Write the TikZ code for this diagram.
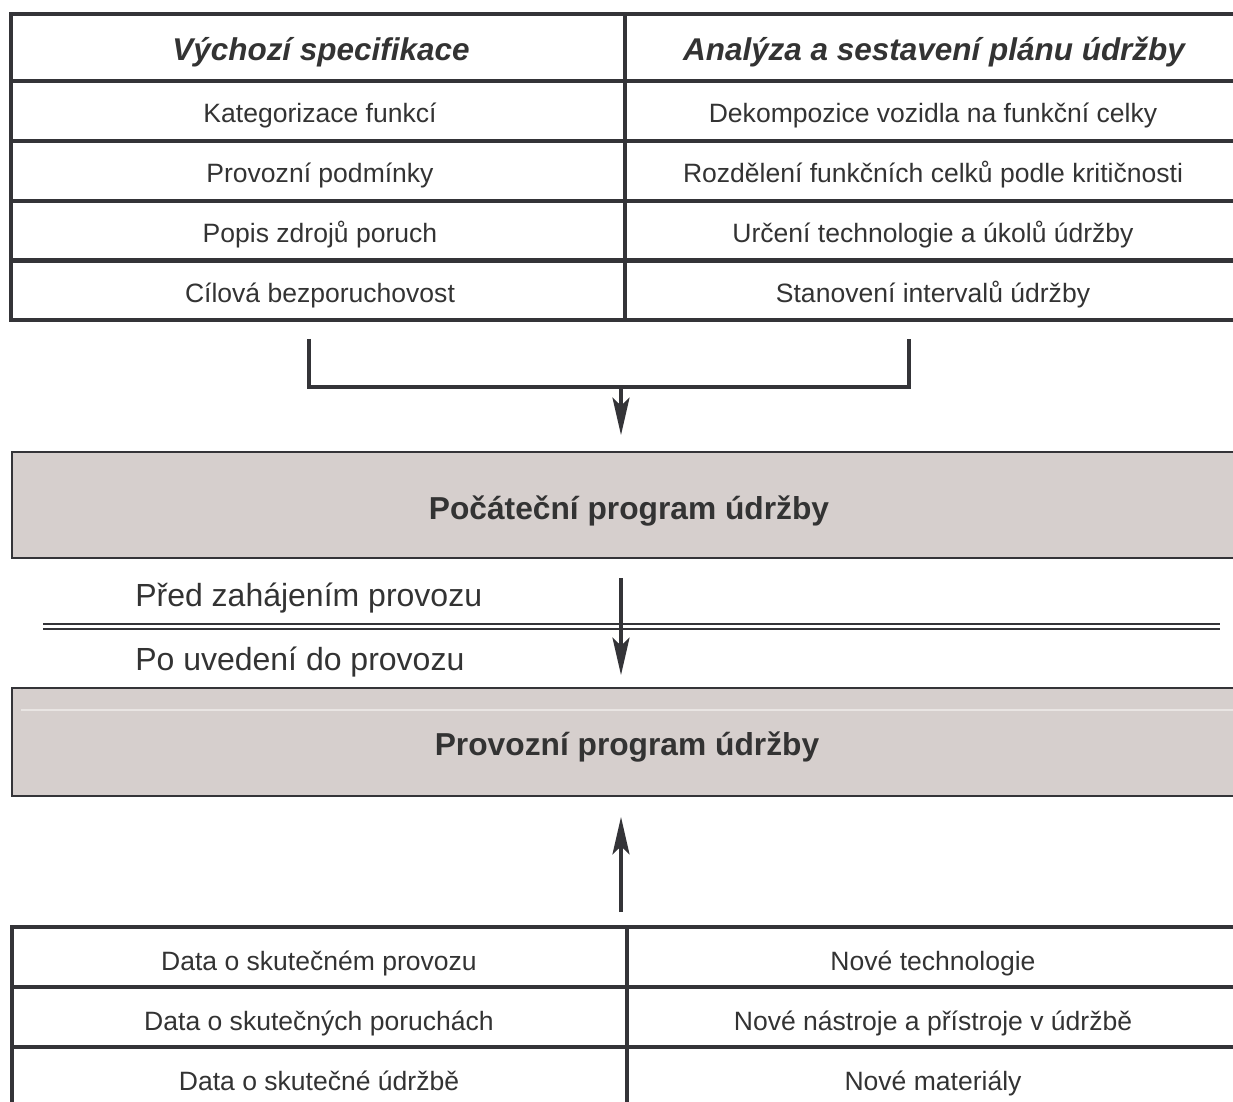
\documentclass[tikz,border=0pt]{standalone}
\usepackage{fontspec}
\setmainfont{Liberation Sans}
\usetikzlibrary{arrows.meta}
\definecolor{linec}{RGB}{52,52,56}
\definecolor{textc}{RGB}{51,51,51}
\definecolor{boxfill}{RGB}{214,207,205}
\definecolor{faint}{RGB}{233,229,227}
\begin{document}
\begin{tikzpicture}[x=0.75pt,y=-0.75pt,
  cell/.style={draw=linec,line width=3pt,inner sep=0pt},
  progbox/.style={draw=linec,fill=boxfill,line width=1.5pt,inner sep=0pt,minimum width=924.75pt},
  txt/.style={text=textc,inner sep=0pt,anchor=base,font=\fontsize{19.9pt}{24pt}\selectfont},
  headtxt/.style={text=textc,inner sep=0pt,anchor=base,font=\fontsize{23.6pt}{28pt}\selectfont\bfseries\itshape},
  boxtxt/.style={text=textc,inner sep=0pt,anchor=base,font=\fontsize{23.8pt}{28pt}\selectfont\bfseries},
  sidetxt/.style={text=textc,inner sep=0pt,anchor=base west,font=\fontsize{24pt}{28pt}\selectfont},
  conn/.style={draw=linec,line width=2.5pt},
  arr/.style={conn,-{Stealth[length=28pt,width=12.75pt,inset=6pt]}}]
\useasboundingbox (0,0) rectangle (1233,1102);
\clip (0,0) rectangle (1233,1102);

% ---------- top table ----------
\node[cell,minimum width=460.5pt,minimum height=50.25pt] (lh) at (318,47.5) {};
\node[cell,minimum width=465pt,minimum height=50.25pt] (rh) at (935,47.5) {};
\node[cell,minimum width=460.5pt,minimum height=45pt] (l1) at (318,111) {};
\node[cell,minimum width=465pt,minimum height=45pt] (r1) at (935,111) {};
\node[cell,minimum width=460.5pt,minimum height=45pt] (l2) at (318,171) {};
\node[cell,minimum width=465pt,minimum height=45pt] (r2) at (935,171) {};
\node[cell,minimum width=460.5pt,minimum height=45pt] (l3) at (318,231) {};
\node[cell,minimum width=465pt,minimum height=45pt] (r3) at (935,231) {};
\node[cell,minimum width=460.5pt,minimum height=45pt] (l4) at (318,290.5) {};
\node[cell,minimum width=465pt,minimum height=45pt] (r4) at (935,290.5) {};

\node[headtxt] (tlh) at (321,61) {Výchozí specifikace};
\node[headtxt] (trh) at (934,61) {Analýza a sestavení plánu údržby};
\node[txt] (tl1) at (320,123) {Kategorizace funkcí};
\node[txt] (tr1) at (933,123) {Dekompozice vozidla na funkční celky};
\node[txt] (tl2) at (320,183) {Provozní podmínky};
\node[txt] (tr2) at (933,183) {Rozdělení funkčních celků podle kritičnosti};
\node[txt] (tl3) at (320,243) {Popis zdrojů poruch};
\node[txt] (tr3) at (933,243) {Určení technologie a úkolů údržby};
\node[txt] (tl4) at (320,303) {Cílová bezporuchovost};
\node[txt] (tr4) at (933,303) {Stanovení intervalů údržby};

% ---------- bracket ----------
\coordinate (bl) at (309,339);
\coordinate (br) at (909,339);
\coordinate (bm) at (621,387);
\coordinate (bt) at (621,435);
\draw[conn,line join=miter] (bl) -- (bl |- bm) -- (br |- bm) -- (br);
\draw[arr] (bm) -- (bt);

% ---------- program boxes ----------
\node[progbox,minimum height=79.5pt] (p1) at (628.5,505) {};
\node[boxtxt] (p1t) at (629,519) {Počáteční program údržby};
\node[progbox,minimum height=81pt] (p2) at (628.5,742) {};
\draw[faint,line width=1pt] (21,710) -- (1240,710);
\node[boxtxt] (p2t) at (627,755) {Provozní program údržby};

% ---------- phase separator ----------
\node[sidetxt] (before) at (135,606) {Před zahájením provozu};
\node[sidetxt] (after) at (135,670) {Po uvedení do provozu};
\coordinate (dl) at (43,626.5);
\coordinate (dr) at (1220,626.5);
\draw[linec,line width=1.3pt,double=white,double distance=2.7pt] (dl) -- (dr);
\coordinate (ms) at (621,578);
\coordinate (me) at (621,675);
\draw[arr] (ms) -- (me);

% ---------- bottom arrow ----------
\coordinate (us) at (621,912);
\coordinate (ue) at (621,817);
\draw[arr] (us) -- (ue);

% ---------- bottom table ----------
\node[cell,minimum width=461.25pt,minimum height=45pt] (b1l) at (319.5,957) {};
\node[cell,minimum width=463.5pt,minimum height=45pt] (b1r) at (936,957) {};
\node[cell,minimum width=461.25pt,minimum height=45pt] (b2l) at (319.5,1017) {};
\node[cell,minimum width=463.5pt,minimum height=45pt] (b2r) at (936,1017) {};
\node[cell,minimum width=461.25pt,minimum height=45pt] (b3l) at (319.5,1077) {};
\node[cell,minimum width=463.5pt,minimum height=45pt] (b3r) at (936,1077) {};

\node[txt] (tb1l) at (319,970) {Data o skutečném provozu};
\node[txt] (tb1r) at (933,970) {Nové technologie};
\node[txt] (tb2l) at (319,1030) {Data o skutečných poruchách};
\node[txt] (tb2r) at (933,1030) {Nové nástroje a přístroje v údržbě};
\node[txt] (tb3l) at (319,1090) {Data o skutečné údržbě};
\node[txt] (tb3r) at (933,1090) {Nové materiály};
\end{tikzpicture}
\end{document}
